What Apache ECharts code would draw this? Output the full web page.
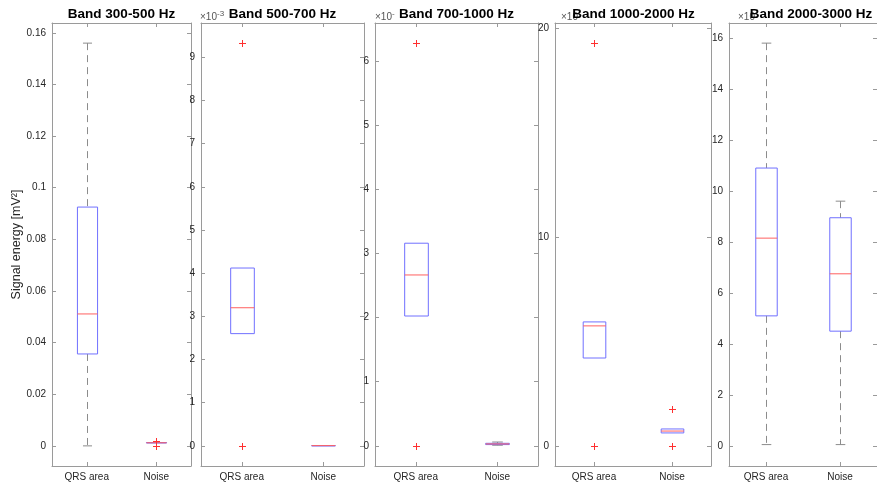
<!DOCTYPE html>
<html>
<head>
<meta charset="utf-8">
<script src="https://cdn.jsdelivr.net/npm/echarts@6.0.0/dist/echarts.min.js"></script>
<style>
html,body{margin:0;padding:0;background:#fff;}
#chart{width:877px;height:483px;}
</style>
</head>
<body>
<div id="chart"></div>
<script>
// ---- data ----
const categories = ['QRS area', 'Noise'];
const titles = ['Band 300-500 Hz', 'Band 500-700 Hz', 'Band 700-1000 Hz', 'Band 1000-2000 Hz', 'Band 2000-3000 Hz'];
// visible part of the axis exponent (rest is hidden behind the title in the original)
const exponentBase = ['', '×10', '×10', '×10', '×10'];
const exponentPower = ['', '-3', '-', '', ''];
const yAxisTitle = 'Signal energy [mV²]';

// box stats per category: [lower whisker, Q1, median, Q3, upper whisker]
const box300 = [[0, 0.0356, 0.0511, 0.0925, 0.156], [0.0011, 0.0011, 0.0012, 0.0013, 0.0013]];
const out300 = [[1, 0.0019], [1, 0.0001]];
const ticks300 = [0, 0.02, 0.04, 0.06, 0.08, 0.1, 0.12, 0.14, 0.16];

const box500 = [[2.6, 2.6, 3.2, 4.12, 4.12], [0.002, 0.004, 0.006, 0.008, 0.01]];
const out500 = [[0, 9.33], [0, 0]];
const ticks500 = [0, 1, 2, 3, 4, 5, 6, 7, 8, 9];

const box700 = [[2.025, 2.025, 2.665, 3.16, 3.16], [0.01, 0.02, 0.03, 0.04, 0.06]];
const out700 = [[0, 6.28], [0, 0]];
const ticks700 = [0, 1, 2, 3, 4, 5, 6];

const box1000 = [[4.21, 4.21, 5.75, 5.94, 5.94], [0.62, 0.62, 0.71, 0.81, 0.81]];
const out1000 = [[0, 19.3], [0, 0], [1, 1.75], [1, 0]];
const ticks1000 = [0, 10, 20];

const box2000 = [[0.05, 5.1, 8.15, 10.9, 15.8], [0.05, 4.5, 6.75, 8.95, 9.6]];
const out2000 = [];
const ticks2000 = [0, 2, 4, 6, 8, 10, 12, 14, 16];

// ---- layout / styles ----
const boxes = [box300, box500, box700, box1000, box2000];
const outs = [out300, out500, out700, out1000, out2000];
const ticks = [ticks300, ticks500, ticks700, ticks1000, ticks2000];
const grids = [
  {left: 52, width: 139},
  {left: 201, width: 163},
  {left: 375, width: 163},
  {left: 555, width: 156},
  {left: 729, width: 158}
];
const TOP = 23, HEIGHT = 443;
const titleX = [121.5, 282.5, 456.5, 633.5, 811];
const expX = [0, 200, 375, 561, 738];
const FONT = '"Liberation Sans", Arial, Helvetica, sans-serif';
const AXIS_COLOR = '#9a9a9a';
const TEXT_COLOR = '#262626';

function renderBox(params, api) {
  const x = api.value(0);
  const lo = api.coord([x, api.value(1)]);
  const q1 = api.coord([x, api.value(2)]);
  const md = api.coord([x, api.value(3)]);
  const q3 = api.coord([x, api.value(4)]);
  const hi = api.coord([x, api.value(5)]);
  const band = api.size([1, 0])[0];
  const half = band * 0.145;
  const cap = band * 0.065;
  const cx = Math.round(q1[0]) + 0.5;
  const whisk = {stroke: '#8c8c8c', lineWidth: 1, lineDash: [7, 5], fill: null};
  const capStyle = {stroke: '#8c8c8c', lineWidth: 1, fill: null};
  const children = [];
  if (q3[1] - hi[1] > 0.5) {
    children.push({type: 'line', shape: {x1: cx, y1: hi[1], x2: cx, y2: q3[1]}, style: whisk});
    children.push({type: 'line', shape: {x1: cx - cap, y1: hi[1], x2: cx + cap, y2: hi[1]}, style: capStyle});
  }
  if (lo[1] - q1[1] > 0.5) {
    children.push({type: 'line', shape: {x1: cx, y1: q1[1], x2: cx, y2: lo[1]}, style: whisk});
    children.push({type: 'line', shape: {x1: cx - cap, y1: lo[1], x2: cx + cap, y2: lo[1]}, style: capStyle});
  }
  children.push({type: 'rect', shape: {x: cx - half, y: q3[1], width: 2 * half, height: Math.max(q1[1] - q3[1], 0.5)},
    style: {fill: null, stroke: '#7070ff', lineWidth: 1}});
  children.push({type: 'line', shape: {x1: cx - half, y1: md[1], x2: cx + half, y2: md[1]},
    style: {stroke: '#ff6060', lineWidth: 1, fill: null}});
  return {type: 'group', children: children};
}

function renderOutlier(params, api) {
  const p = api.coord([api.value(0), api.value(1)]);
  const r = 3.5;
  const cx = Math.round(p[0]) + 0.5, cy = Math.round(p[1]) + 0.5;
  const st = {stroke: '#ff3030', lineWidth: 1, fill: null};
  return {type: 'group', children: [
    {type: 'line', shape: {x1: cx - r, y1: cy, x2: cx + r, y2: cy}, style: st},
    {type: 'line', shape: {x1: cx, y1: cy - r, x2: cx, y2: cy + r}, style: st}
  ]};
}

const grid = [], xAxis = [], yAxis = [], series = [], graphic = [];
for (let i = 0; i < 5; i++) {
  grid.push({left: grids[i].left, top: TOP, width: grids[i].width, height: HEIGHT, containLabel: false});
  // range: 5% padding around data [0, max]
  let m = 0;
  boxes[i].forEach(b => b.forEach(v => { if (v > m) m = v; }));
  outs[i].forEach(o => { if (o[1] > m) m = o[1]; });
  const ymin = -0.05 * m, ymax = 1.05 * m;
  const lineStyle = {color: AXIS_COLOR, width: 1};
  const tick = {show: true, inside: true, length: 4, alignWithLabel: true, lineStyle: lineStyle};
  xAxis.push({gridIndex: i, type: 'category', data: categories, position: 'bottom', boundaryGap: true,
    axisLine: {show: true, onZero: false, lineStyle: lineStyle}, axisTick: tick,
    axisLabel: {color: TEXT_COLOR, fontSize: 10, fontFamily: FONT, margin: 6}, splitLine: {show: false}});
  xAxis.push({gridIndex: i, type: 'category', data: categories, position: 'top', boundaryGap: true,
    axisLine: {show: true, onZero: false, lineStyle: lineStyle}, axisTick: tick,
    axisLabel: {show: false}, splitLine: {show: false}});
  const yTick = {show: true, inside: true, length: 4, lineStyle: lineStyle, customValues: ticks[i]};
  yAxis.push({gridIndex: i, type: 'value', min: ymin, max: ymax, position: 'left',
    name: i === 0 ? yAxisTitle : '', nameLocation: 'middle', nameGap: 29,
    nameTextStyle: {color: TEXT_COLOR, fontSize: 12.5, fontFamily: FONT},
    axisLine: {show: true, onZero: false, lineStyle: lineStyle}, axisTick: yTick,
    axisLabel: {color: TEXT_COLOR, fontSize: 10, fontFamily: FONT, margin: 6, customValues: ticks[i],
      formatter: v => String(+v.toFixed(6))},
    splitLine: {show: false}});
  yAxis.push({gridIndex: i, type: 'value', min: ymin, max: ymax, position: 'right',
    axisLine: {show: true, onZero: false, lineStyle: lineStyle}, axisTick: yTick,
    axisLabel: {show: false}, splitLine: {show: false}});
  series.push({type: 'custom', xAxisIndex: 2 * i, yAxisIndex: 2 * i, renderItem: renderBox,
    encode: {x: 0, y: [1, 2, 3, 4, 5]}, clip: false,
    data: boxes[i].map((b, k) => [k].concat(b))});
  series.push({type: 'custom', xAxisIndex: 2 * i, yAxisIndex: 2 * i, renderItem: renderOutlier,
    encode: {x: 0, y: 1}, clip: false, data: outs[i]});
  if (exponentBase[i]) {
    const txt = exponentPower[i] ? '{a|' + exponentBase[i] + '}{b|' + exponentPower[i] + '}' : '{a|' + exponentBase[i] + '}';
    graphic.push({type: 'text', x: expX[i], y: 22, z: 1,
      style: {text: txt, fill: '#555', textAlign: 'left', textVerticalAlign: 'bottom',
        rich: {
          a: {fontSize: 10, fontFamily: FONT, fill: '#555', verticalAlign: 'bottom', lineHeight: 12},
          b: {fontSize: 8, fontFamily: FONT, fill: '#555', verticalAlign: 'bottom', lineHeight: 12, padding: [0, 0, 4, 0]}
        }}});
  }
  graphic.push({type: 'text', x: titleX[i], y: 14, z: 10,
    style: {text: titles[i], font: 'bold 13.5px ' + FONT, fill: '#000', textAlign: 'center', textVerticalAlign: 'middle'}});
}

const chart = echarts.init(document.getElementById('chart'), null, {renderer: 'canvas'});
chart.setOption({
  animation: false,
  backgroundColor: '#ffffff',
  grid: grid, xAxis: xAxis, yAxis: yAxis, series: series, graphic: graphic
});
</script>
</body>
</html>
